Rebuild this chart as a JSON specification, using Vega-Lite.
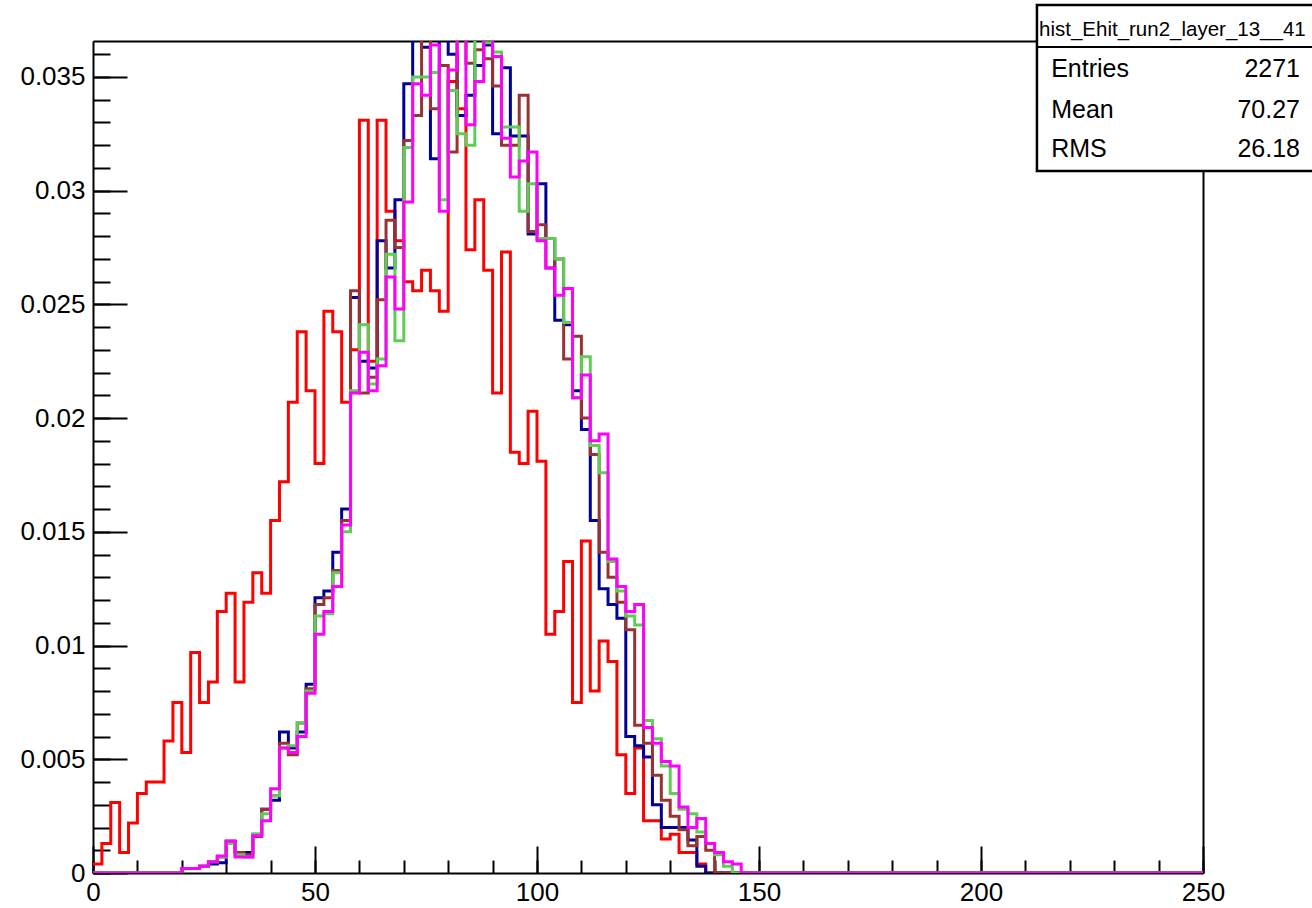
{
  "$schema": "https://vega.github.io/schema/vega-lite/v6.json",
  "width": 1110,
  "height": 832,
  "autosize": {"type": "none"},
  "padding": {"left": 93, "top": 41, "right": 109, "bottom": 35},
  "background": "white",
  "config": {
    "view": {"stroke": null},
    "font": "Liberation Sans",
    "axis": {"grid": false, "title": null, "domainColor": "black", "domainWidth": 2, "tickColor": "black", "tickWidth": 2, "labelColor": "black", "labelFont": "Liberation Sans", "labelFontSize": 26}
  },
  "data": {
    "values": [
      {"x": 0, "r": 0.0004, "b": 0, "n": 0, "g": 0, "m": 0},
      {"x": 2, "r": 0.0013, "b": 0, "n": 0, "g": 0, "m": 0},
      {"x": 4, "r": 0.0031, "b": 0, "n": 0, "g": 0, "m": 0},
      {"x": 6, "r": 0.0009, "b": 0, "n": 0, "g": 0, "m": 0},
      {"x": 8, "r": 0.0022, "b": 0, "n": 0, "g": 0, "m": 0},
      {"x": 10, "r": 0.0035, "b": 0, "n": 0, "g": 0, "m": 0},
      {"x": 12, "r": 0.004, "b": 0, "n": 0, "g": 0, "m": 0},
      {"x": 14, "r": 0.004, "b": 0, "n": 0, "g": 0, "m": 0},
      {"x": 16, "r": 0.0058, "b": 0, "n": 0, "g": 0, "m": 0},
      {"x": 18, "r": 0.0075, "b": 0, "n": 0, "g": 0, "m": 0},
      {"x": 20, "r": 0.0053, "b": 0.0002, "n": 0.0002, "g": 0.0002, "m": 0.0002},
      {"x": 22, "r": 0.0097, "b": 0.0002, "n": 0.0002, "g": 0.0002, "m": 0.0002},
      {"x": 24, "r": 0.0075, "b": 0.0003, "n": 0.0003, "g": 0.0003, "m": 0.0003},
      {"x": 26, "r": 0.0084, "b": 0.0004, "n": 0.0005, "g": 0.0005, "m": 0.0005},
      {"x": 28, "r": 0.0115, "b": 0.00045, "n": 0.0007, "g": 0.0007, "m": 0.00075},
      {"x": 30, "r": 0.0123, "b": 0.0014, "n": 0.0014, "g": 0.0013, "m": 0.0014},
      {"x": 32, "r": 0.0084, "b": 0.0009, "n": 0.0009, "g": 0.0008, "m": 0.0007},
      {"x": 34, "r": 0.0119, "b": 0.0009, "n": 0.0008, "g": 0.0007, "m": 0.0007},
      {"x": 36, "r": 0.0132, "b": 0.0017, "n": 0.0016, "g": 0.0017, "m": 0.00164},
      {"x": 38, "r": 0.0123, "b": 0.0028, "n": 0.0028, "g": 0.0026, "m": 0.0023},
      {"x": 40, "r": 0.0155, "b": 0.0032, "n": 0.0034, "g": 0.0034, "m": 0.0037},
      {"x": 42, "r": 0.0172, "b": 0.0062, "n": 0.0057, "g": 0.0055, "m": 0.0055},
      {"x": 44, "r": 0.0207, "b": 0.0055, "n": 0.0052, "g": 0.0056, "m": 0.0053},
      {"x": 46, "r": 0.0238, "b": 0.0062, "n": 0.0066, "g": 0.0066, "m": 0.006},
      {"x": 48, "r": 0.0212, "b": 0.0083, "n": 0.0081, "g": 0.008, "m": 0.0079},
      {"x": 50, "r": 0.018, "b": 0.0121, "n": 0.0118, "g": 0.0113, "m": 0.0105},
      {"x": 52, "r": 0.0247, "b": 0.0124, "n": 0.0121, "g": 0.0114, "m": 0.0115},
      {"x": 54, "r": 0.0238, "b": 0.0141, "n": 0.0133, "g": 0.0132, "m": 0.0126},
      {"x": 56, "r": 0.0207, "b": 0.016, "n": 0.0155, "g": 0.015, "m": 0.0153},
      {"x": 58, "r": 0.023, "b": 0.0253, "n": 0.0256, "g": 0.0212, "m": 0.0211},
      {"x": 60, "r": 0.0331, "b": 0.0225, "n": 0.0211, "g": 0.0241, "m": 0.0229},
      {"x": 62, "r": 0.0225, "b": 0.0222, "n": 0.0218, "g": 0.0215, "m": 0.0212},
      {"x": 64, "r": 0.0331, "b": 0.0278, "n": 0.0252, "g": 0.0226, "m": 0.0223},
      {"x": 66, "r": 0.0291, "b": 0.0266, "n": 0.0287, "g": 0.0272, "m": 0.0262},
      {"x": 68, "r": 0.0278, "b": 0.0296, "n": 0.0275, "g": 0.0234, "m": 0.0248},
      {"x": 70, "r": 0.026, "b": 0.0347, "n": 0.0322, "g": 0.0319, "m": 0.0295},
      {"x": 72, "r": 0.0256, "b": 0.0375, "n": 0.0333, "g": 0.035, "m": 0.0347},
      {"x": 74, "r": 0.0265, "b": 0.0363, "n": 0.0372, "g": 0.035, "m": 0.0342},
      {"x": 76, "r": 0.0256, "b": 0.0314, "n": 0.0336, "g": 0.0352, "m": 0.0364},
      {"x": 78, "r": 0.0247, "b": 0.0368, "n": 0.0355, "g": 0.0296, "m": 0.0291},
      {"x": 80, "r": 0.0348, "b": 0.036, "n": 0.0317, "g": 0.0344, "m": 0.0353},
      {"x": 82, "r": 0.0336, "b": 0.0333, "n": 0.0372, "g": 0.0325, "m": 0.0372},
      {"x": 84, "r": 0.0274, "b": 0.0342, "n": 0.0356, "g": 0.032, "m": 0.0329},
      {"x": 86, "r": 0.0296, "b": 0.0355, "n": 0.0362, "g": 0.0372, "m": 0.0348},
      {"x": 88, "r": 0.0265, "b": 0.0364, "n": 0.0358, "g": 0.0365, "m": 0.0372},
      {"x": 90, "r": 0.0211, "b": 0.0325, "n": 0.0346, "g": 0.0361, "m": 0.0359},
      {"x": 92, "r": 0.0273, "b": 0.0354, "n": 0.032, "g": 0.0328, "m": 0.0323},
      {"x": 94, "r": 0.0185, "b": 0.0324, "n": 0.032, "g": 0.0328, "m": 0.0306},
      {"x": 96, "r": 0.018, "b": 0.0324, "n": 0.0342, "g": 0.0291, "m": 0.0313},
      {"x": 98, "r": 0.0203, "b": 0.0281, "n": 0.0282, "g": 0.0303, "m": 0.0317},
      {"x": 100, "r": 0.0181, "b": 0.0303, "n": 0.0285, "g": 0.0279, "m": 0.0278},
      {"x": 102, "r": 0.0105, "b": 0.0279, "n": 0.0266, "g": 0.0279, "m": 0.0266},
      {"x": 104, "r": 0.0115, "b": 0.0243, "n": 0.027, "g": 0.027, "m": 0.0254},
      {"x": 106, "r": 0.0137, "b": 0.0241, "n": 0.0226, "g": 0.0242, "m": 0.0257},
      {"x": 108, "r": 0.0075, "b": 0.0212, "n": 0.0236, "g": 0.0209, "m": 0.0209},
      {"x": 110, "r": 0.0146, "b": 0.0195, "n": 0.02, "g": 0.0227, "m": 0.0219},
      {"x": 112, "r": 0.008, "b": 0.0155, "n": 0.0184, "g": 0.0188, "m": 0.019},
      {"x": 114, "r": 0.0102, "b": 0.0125, "n": 0.0141, "g": 0.0176, "m": 0.0193},
      {"x": 116, "r": 0.0093, "b": 0.0118, "n": 0.013, "g": 0.0137, "m": 0.0138},
      {"x": 118, "r": 0.0052, "b": 0.0112, "n": 0.0119, "g": 0.0124, "m": 0.0126},
      {"x": 120, "r": 0.0035, "b": 0.006, "n": 0.0107, "g": 0.0113, "m": 0.0115},
      {"x": 122, "r": 0.0055, "b": 0.0056, "n": 0.0065, "g": 0.0109, "m": 0.0118},
      {"x": 124, "r": 0.0023, "b": 0.0051, "n": 0.0057, "g": 0.0067, "m": 0.0064},
      {"x": 126, "r": 0.0023, "b": 0.003, "n": 0.0043, "g": 0.0059, "m": 0.0057},
      {"x": 128, "r": 0.0015, "b": 0.002, "n": 0.0032, "g": 0.0047, "m": 0.0049},
      {"x": 130, "r": 0.0017, "b": 0.002, "n": 0.0025, "g": 0.0035, "m": 0.0047},
      {"x": 132, "r": 0.0009, "b": 0.002, "n": 0.0019, "g": 0.0028, "m": 0.0029},
      {"x": 134, "r": 0.0009, "b": 0.00145, "n": 0.0012, "g": 0.0026, "m": 0.002},
      {"x": 136, "r": 0.0004, "b": 0.0003, "n": 0.0016, "g": 0.0018, "m": 0.0024},
      {"x": 138, "r": 0, "b": 0, "n": 0.001, "g": 0.0013, "m": 0.0013},
      {"x": 140, "r": 0, "b": 0, "n": 0, "g": 0.0008, "m": 0.0009},
      {"x": 142, "r": 0, "b": 0, "n": 0, "g": 0.0003, "m": 0.0005},
      {"x": 144, "r": 0, "b": 0, "n": 0, "g": 0, "m": 0.0004},
      {"x": 146, "r": 0, "b": 0, "n": 0, "g": 0, "m": 0},
      {"x": 250, "r": 0, "b": 0, "n": 0, "g": 0, "m": 0}
    ]
  },
  "resolve": {"axis": {"x": "independent", "y": "independent"}},
  "layer": [
    {
      "mark": {"type": "line", "interpolate": "step-after", "strokeWidth": 3, "color": "#ff0000", "clip": true},
      "encoding": {
        "x": {"field": "x", "type": "quantitative", "scale": {"domain": [0, 250], "nice": false, "zero": false},
              "axis": {"orient": "bottom", "values": [0,10,20,30,40,50,60,70,80,90,100,110,120,130,140,150,160,170,180,190,200,210,220,230,240,250], "labels": false, "domain": false, "tickSize": -13}},
        "y": {"field": "r", "type": "quantitative", "scale": {"domain": [0, 0.03658], "nice": false, "zero": false},
              "axis": {"orient": "left", "values": [0,0.001,0.002,0.003,0.004,0.005,0.006,0.007,0.008,0.009,0.01,0.011,0.012,0.013,0.014,0.015,0.016,0.017,0.018,0.019,0.02,0.021,0.022,0.023,0.024,0.025,0.026,0.027,0.028,0.029,0.03,0.031,0.032,0.033,0.034,0.035,0.036], "labels": false, "domain": false, "tickSize": -17}}
      }
    },
    {
      "mark": {"type": "line", "interpolate": "step-after", "strokeWidth": 3, "color": "#000099", "clip": true},
      "encoding": {
        "x": {"field": "x", "type": "quantitative",
              "axis": {"orient": "bottom", "values": [0,50,100,150,200,250], "format": "~r", "tickSize": -27, "labelPadding": 33, "labelFlush": false, "labelOverlap": false}},
        "y": {"field": "b", "type": "quantitative",
              "axis": {"orient": "left", "values": [0,0.005,0.01,0.015,0.02,0.025,0.03,0.035], "format": "~r", "tickSize": -34, "labelPadding": 42, "labelOverlap": false, "labelFlush": false}}
      }
    },
    {
      "mark": {"type": "line", "interpolate": "step-after", "strokeWidth": 3, "color": "#993333", "clip": true},
      "encoding": {
        "x": {"field": "x", "type": "quantitative", "axis": {"orient": "top", "ticks": false, "labels": false, "domain": true}},
        "y": {"field": "n", "type": "quantitative", "axis": {"orient": "right", "ticks": false, "labels": false, "domain": true}}
      }
    },
    {
      "mark": {"type": "line", "interpolate": "step-after", "strokeWidth": 3, "color": "#5fcd55", "clip": true},
      "encoding": {
        "x": {"field": "x", "type": "quantitative", "axis": null},
        "y": {"field": "g", "type": "quantitative", "axis": null}
      }
    },
    {
      "mark": {"type": "line", "interpolate": "step-after", "strokeWidth": 3, "color": "#ff00ff", "clip": true},
      "encoding": {
        "x": {"field": "x", "type": "quantitative", "axis": null},
        "y": {"field": "m", "type": "quantitative", "axis": null}
      }
    },
    {
      "data": {"values": [{}]},
      "mark": {"type": "rect", "fill": "white", "stroke": "black", "strokeWidth": 2.5},
      "encoding": {
        "x": {"datum": 212.6, "type": "quantitative", "axis": null},
        "x2": {"datum": 290},
        "y": {"datum": 0.038166, "type": "quantitative", "axis": null},
        "y2": {"datum": 0.030867}
      }
    },
    {
      "data": {"values": [{}]},
      "mark": {"type": "rule", "stroke": "black", "strokeWidth": 2},
      "encoding": {
        "x": {"datum": 212.6, "type": "quantitative", "axis": null},
        "x2": {"datum": 290},
        "y": {"datum": 0.036319, "type": "quantitative", "axis": null}
      }
    },
    {
      "data": {"values": [{}]},
      "mark": {"type": "text", "align": "center", "baseline": "middle", "font": "Liberation Sans", "fontSize": 20.5, "color": "black"},
      "encoding": {
        "x": {"datum": 243.1, "type": "quantitative", "axis": null},
        "y": {"datum": 0.037066, "type": "quantitative", "axis": null},
        "text": {"value": "hist_Ehit_run2_layer_13__41"}
      }
    },
    {
      "data": {"values": [{}]},
      "mark": {"type": "text", "align": "left", "baseline": "middle", "font": "Liberation Sans", "fontSize": 25, "color": "black"},
      "encoding": {
        "x": {"datum": 215.8, "type": "quantitative", "axis": null},
        "y": {"datum": 0.035352, "type": "quantitative", "axis": null},
        "text": {"value": "Entries"}
      }
    },
    {
      "data": {"values": [{}]},
      "mark": {"type": "text", "align": "left", "baseline": "middle", "font": "Liberation Sans", "fontSize": 25, "color": "black"},
      "encoding": {
        "x": {"datum": 215.8, "type": "quantitative", "axis": null},
        "y": {"datum": 0.033549, "type": "quantitative", "axis": null},
        "text": {"value": "Mean"}
      }
    },
    {
      "data": {"values": [{}]},
      "mark": {"type": "text", "align": "left", "baseline": "middle", "font": "Liberation Sans", "fontSize": 25, "color": "black"},
      "encoding": {
        "x": {"datum": 215.8, "type": "quantitative", "axis": null},
        "y": {"datum": 0.031812, "type": "quantitative", "axis": null},
        "text": {"value": "RMS"}
      }
    },
    {
      "data": {"values": [{}]},
      "mark": {"type": "text", "align": "right", "baseline": "middle", "font": "Liberation Sans", "fontSize": 25, "color": "black"},
      "encoding": {
        "x": {"datum": 271.85, "type": "quantitative", "axis": null},
        "y": {"datum": 0.035352, "type": "quantitative", "axis": null},
        "text": {"value": "2271"}
      }
    },
    {
      "data": {"values": [{}]},
      "mark": {"type": "text", "align": "right", "baseline": "middle", "font": "Liberation Sans", "fontSize": 25, "color": "black"},
      "encoding": {
        "x": {"datum": 271.85, "type": "quantitative", "axis": null},
        "y": {"datum": 0.033549, "type": "quantitative", "axis": null},
        "text": {"value": "70.27"}
      }
    },
    {
      "data": {"values": [{}]},
      "mark": {"type": "text", "align": "right", "baseline": "middle", "font": "Liberation Sans", "fontSize": 25, "color": "black"},
      "encoding": {
        "x": {"datum": 271.85, "type": "quantitative", "axis": null},
        "y": {"datum": 0.031812, "type": "quantitative", "axis": null},
        "text": {"value": "26.18"}
      }
    }
  ]
}
